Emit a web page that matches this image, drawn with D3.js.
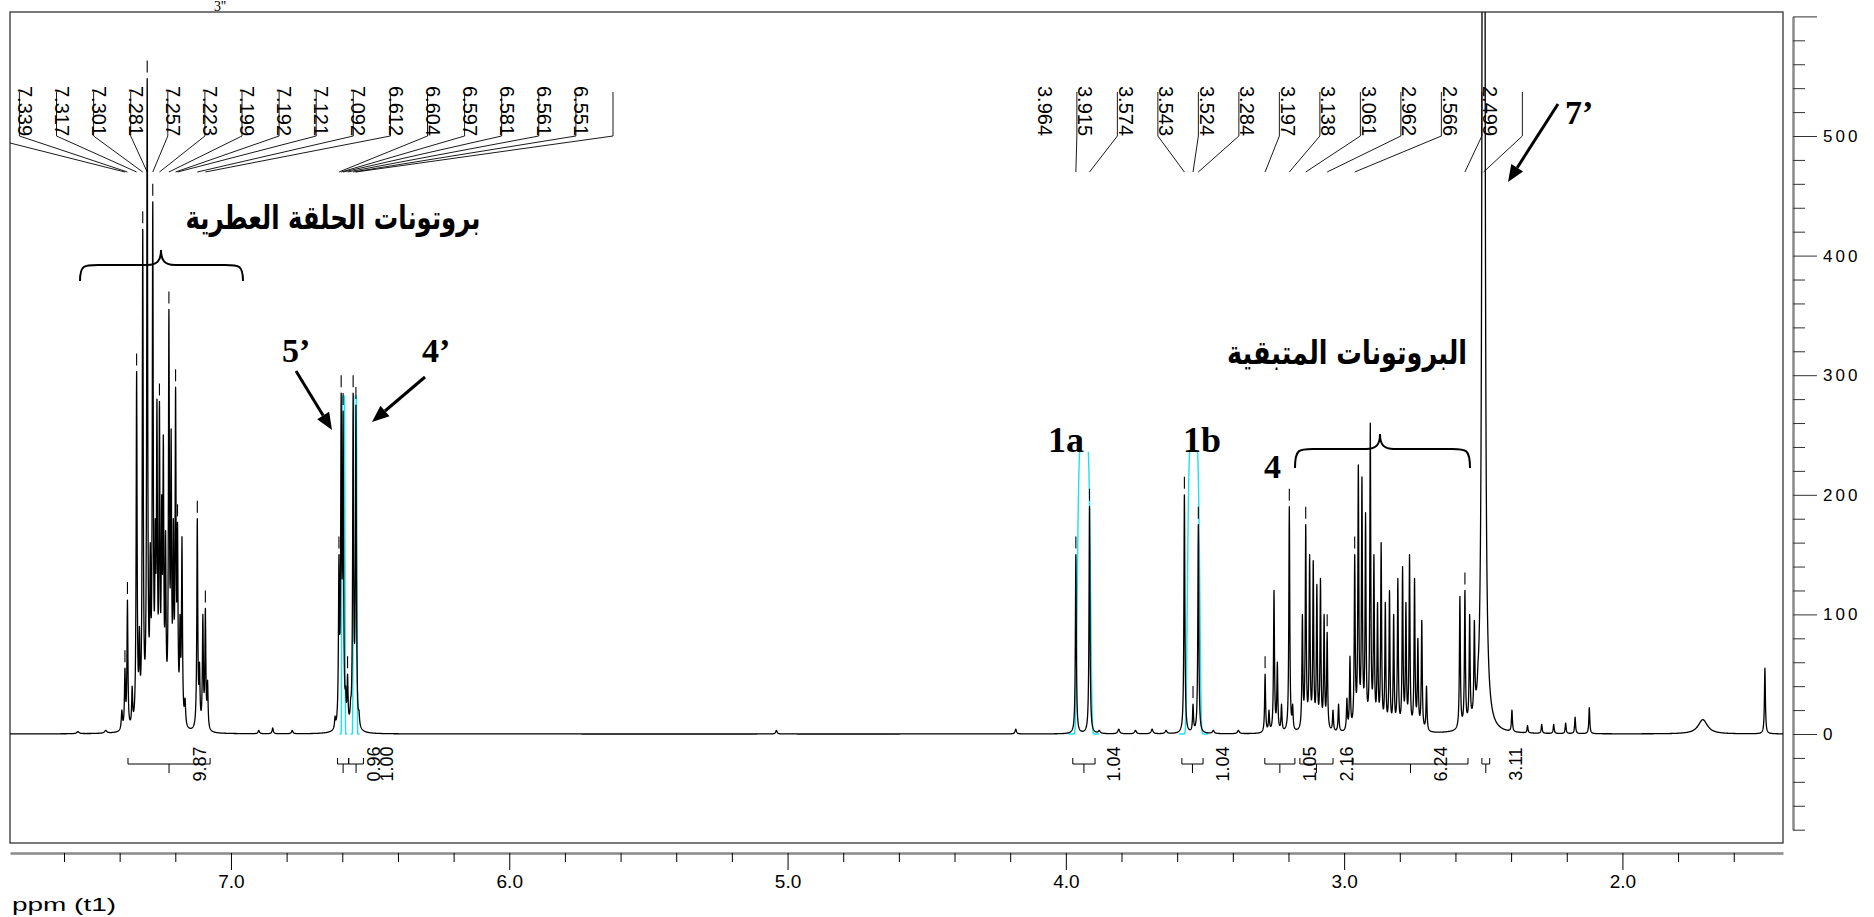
<!DOCTYPE html>
<html>
<head>
<meta charset="utf-8">
<script src="https://cdn.jsdelivr.net/npm/d3@7/dist/d3.min.js"></script>
<style>
  html, body { margin: 0; padding: 0; background: #ffffff; }
  svg { display: block; }
</style>
</head>
<body>
<svg id="chart" width="1874" height="917"></svg>
<script>
// 1H NMR spectrum, ppm (t1): peak picking, integrals and assignments

// ---------- axes ----------
const ppmWindow = [7.794, 1.423];
const ppmMajorTicks = [7, 6, 5, 4, 3, 2];
const ppmMinorTicks = [7.6, 7.4, 7.2, 6.8, 6.6, 6.4, 6.2, 5.8, 5.6, 5.4, 5.2, 4.8, 4.6, 4.4, 4.2,
                       3.8, 3.6, 3.4, 3.2, 2.8, 2.6, 2.4, 2.2, 1.8, 1.6];
const intensityWindow = [-80, 600];
const intensityMajorTicks = [0, 100, 200, 300, 400, 500, 600];
const intensityLabels = [0, 100, 200, 300, 400, 500];
const intensityMinorTicks = [-80, -60, -40, -20, 20, 40, 60, 80, 120, 140, 160, 180, 220, 240, 260, 280,
                             320, 340, 360, 380, 420, 440, 460, 480, 520, 540, 560, 580];

// ---------- resolved lines: [ppm, height, line width (ppm)] ----------
const aromaticLines = [
  [7.392, 20, 0.005], [7.381, 55, 0.004], [7.372, 112, 0.004], [7.355, 40, 0.004],
  [7.339, 303, 0.004], [7.329, 90, 0.004], [7.317, 422, 0.004], [7.301, 548, 0.004],
  [7.290, 160, 0.004], [7.281, 445, 0.004], [7.272, 180, 0.004], [7.266, 280, 0.004],
  [7.257, 278, 0.004], [7.249, 200, 0.004], [7.243, 250, 0.004], [7.235, 170, 0.004],
  [7.223, 355, 0.004], [7.215, 255, 0.004], [7.207, 180, 0.004], [7.199, 290, 0.004],
  [7.192, 177, 0.004], [7.183, 100, 0.004], [7.176, 165, 0.004], [7.165, 30, 0.005],
  [7.121, 180, 0.004], [7.113, 60, 0.004], [7.101, 100, 0.004], [7.092, 105, 0.004],
  [7.084, 45, 0.004]
];
const olefinicLines = [
  [6.626, 15, 0.004], [6.612, 150, 0.004], [6.604, 285, 0.004], [6.597, 270, 0.004],
  [6.588, 40, 0.004], [6.581, 50, 0.004], [6.570, 30, 0.004], [6.561, 285, 0.004],
  [6.551, 275, 0.004], [6.540, 20, 0.004]
];
const oxymethyleneLines = [
  [3.964, 150, 0.004], [3.915, 190, 0.004], [3.574, 200, 0.004], [3.543, 25, 0.004],
  [3.524, 175, 0.004]
];
const aliphaticLines = [
  [3.284, 50, 0.004], [3.270, 20, 0.004], [3.252, 120, 0.004], [3.240, 60, 0.004],
  [3.225, 25, 0.004], [3.197, 190, 0.004], [3.185, 25, 0.004], [3.150, 100, 0.004],
  [3.138, 175, 0.004], [3.124, 150, 0.004], [3.111, 145, 0.004], [3.098, 125, 0.004],
  [3.085, 130, 0.004], [3.072, 100, 0.004], [3.061, 85, 0.004], [3.040, 20, 0.004],
  [3.020, 25, 0.004], [2.990, 30, 0.004], [2.979, 65, 0.004], [2.962, 150, 0.004],
  [2.949, 225, 0.004], [2.936, 215, 0.004], [2.923, 185, 0.004], [2.906, 260, 0.004],
  [2.893, 150, 0.004], [2.880, 110, 0.004], [2.867, 160, 0.004], [2.852, 110, 0.004],
  [2.837, 120, 0.004], [2.822, 100, 0.004], [2.807, 130, 0.004], [2.790, 140, 0.004],
  [2.778, 110, 0.004], [2.765, 150, 0.004], [2.747, 130, 0.004], [2.735, 80, 0.004],
  [2.721, 95, 0.004], [2.704, 40, 0.004], [2.584, 115, 0.004], [2.566, 120, 0.004],
  [2.549, 100, 0.004], [2.532, 95, 0.004], [2.519, 60, 0.004]
];
const solventLines = [[2.499, 9000, 0.003]];
const minorLines = [
  [7.55, 2, 0.01], [7.45, 3, 0.01], [6.90, 3, 0.006], [6.85, 5, 0.005], [6.78, 3, 0.006],
  [5.04, 3, 0.006], [4.18, 4, 0.006], [3.88, 3, 0.008], [3.81, 4, 0.008], [3.75, 3, 0.008],
  [3.69, 4, 0.008], [3.64, 3, 0.008], [3.47, 3, 0.008], [3.38, 3, 0.008],
  [2.470, 15, 0.006], [2.397, 20, 0.004], [2.341, 7, 0.004], [2.290, 8, 0.004],
  [2.247, 8, 0.004], [2.204, 9, 0.004], [2.170, 14, 0.004], [2.119, 22, 0.004],
  [1.711, 12, 0.04], [1.488, 55, 0.004]
];

// broad overlay envelopes of the assigned multiplets: [ppm, half width (ppm), height, clip level]
const overlayEnvelopes = [
  [6.596, 0.0061, 300, 283], [6.554, 0.0072, 300, 283],
  [3.935, 0.0252, 250, 236], [3.541, 0.0234, 250, 236]
];

// ---------- peak picking ----------
const pickedAromatic = [7.381, 7.372, 7.339, 7.317, 7.301, 7.281, 7.257, 7.223, 7.199, 7.192,
                        7.121, 7.092, 6.612, 6.604, 6.597, 6.581, 6.561, 6.551];
const pickedAliphatic = [3.964, 3.915, 3.574, 3.543, 3.524, 3.284, 3.197, 3.138, 3.061, 2.962,
                         2.566, 2.499];

// ---------- integrals ----------
const integralRanges = [[7.370, 7.075], [6.617, 6.577], [6.577, 6.524], [3.975, 3.895],
                        [3.583, 3.507], [3.285, 3.177], [3.159, 3.040], [2.968, 2.555],
                        [2.505, 2.477]];
const integralValues = ["9.87", "0.96", "1.00", "1.04", "1.04", "1.05", "2.16", "6.24", "3.11"];

// ---------- assignments ----------
const aromaticTitle = "بروتونات الحلقة العطرية";
const remainingTitle = "البروتونات  المتبقية";

// ================= drawing =================
const frame = { left: 10, right: 1783, top: 12, bottom: 843 };
const zeroY = 734, unitPx = 1.196;

const x = d3.scaleLinear().domain(ppmWindow).range([frame.left, frame.right]);
const y = d3.scaleLinear().domain(intensityWindow)
  .range([zeroY - intensityWindow[0] * unitPx, zeroY - intensityWindow[1] * unitPx]);

const svg = d3.select("#chart");
const defs = svg.append("defs");
defs.append("clipPath").attr("id", "frameClip").append("rect")
  .attr("x", frame.left).attr("y", frame.top)
  .attr("width", frame.right - frame.left).attr("height", frame.bottom - frame.top);

const sans = "'Liberation Sans', Arial, sans-serif";
const serif = "'Liberation Serif', 'Times New Roman', serif";

// --- lineshape model ---
const lines = [].concat(aromaticLines, olefinicLines, oxymethyleneLines, aliphaticLines,
                        solventLines, minorLines);
function lorentz(p, c, w) { const d = 2 * (p - c) / w; return 1 / (1 + d * d); }
// amplitudes so that the summed trace reaches each line's observed height
const amp = lines.map(l => l[1]);
for (let it = 0; it < 200; it++) {
  for (let i = 0; i < lines.length; i++) {
    let s = 0;
    for (let j = 0; j < lines.length; j++) s += amp[j] * lorentz(lines[i][0], lines[j][0], lines[j][2]);
    amp[i] = Math.max(0, amp[i] + 0.7 * (lines[i][1] - s));
  }
}
function spectrum(p) {
  let s = 0;
  for (let i = 0; i < lines.length; i++) s += amp[i] * lorentz(p, lines[i][0], lines[i][2]);
  return s;
}
const N = 9000;
let grid = d3.range(N + 1).map(i => ppmWindow[0] + (ppmWindow[1] - ppmWindow[0]) * i / N);
grid = grid.concat(lines.map(l => l[0])).sort((a, b) => b - a);
const trace = grid.map(p => [p, spectrum(p)]);

// --- frame ---
svg.append("rect")
  .attr("x", frame.left).attr("y", frame.top)
  .attr("width", frame.right - frame.left).attr("height", frame.bottom - frame.top)
  .attr("fill", "none").attr("stroke", "#222").attr("stroke-width", 1.2);

const plot = svg.append("g").attr("clip-path", "url(#frameClip)");

// --- overlay envelopes (cyan) ---
overlayEnvelopes.forEach((e, k) => {
  const [c, s, h, cap] = e;
  const id = "capClip" + k;
  defs.append("clipPath").attr("id", id).append("rect")
    .attr("x", frame.left).attr("y", y(cap))
    .attr("width", frame.right - frame.left).attr("height", frame.bottom - y(cap));
  const pts = d3.range(0, 241).map(i => {
    const p = c - 2.2 * s + 4.4 * s * i / 240;
    const d = Math.abs((p - c) / s);
    return [p, h * Math.exp(-Math.pow(d, 6))];
  });
  plot.append("g").attr("clip-path", `url(#${id})`).append("path")
    .attr("d", d3.line().x(d => x(d[0])).y(d => y(d[1]))(pts))
    .attr("fill", "none").attr("stroke", "#19e3f2").attr("stroke-width", 1.4);
});

// --- spectrum trace ---
plot.append("path")
  .attr("d", d3.line().x(d => x(d[0])).y(d => y(d[1]))(trace))
  .attr("fill", "none").attr("stroke", "#000").attr("stroke-width", 1.3)
  .attr("stroke-linejoin", "round");

// --- peak-pick markers ---
pickedAromatic.concat(pickedAliphatic).forEach(p => {
  const yy = y(spectrum(p));
  plot.append("line").attr("x1", x(p)).attr("x2", x(p))
    .attr("y1", yy - 6).attr("y2", yy - 18)
    .attr("stroke", "#000").attr("stroke-width", 1.1);
});

// --- peak labels with leaders (labels running past the frame edge keep only their leader) ---
const fmt3 = d3.format(".3f");
function pickLabels(peaks, firstLeaderX, step) {
  peaks.forEach((p, i) => {
    const lx = firstLeaderX + i * step;
    const tx = lx - 32;
    plot.append("path")
      .attr("d", `M${lx},92V136L${x(p)},172`)
      .attr("fill", "none").attr("stroke", "#000").attr("stroke-width", 0.9);
    if (tx - 7 < frame.left) return;
    plot.append("text")
      .attr("transform", `translate(${tx - 7},86) rotate(90)`)
      .attr("font-family", sans).attr("font-size", 20).attr("fill", "#000")
      .text(fmt3(p));
  });
}
pickLabels(pickedAromatic, -17.7, 37.1);
pickLabels(pickedAliphatic, x(pickedAliphatic[0]) + 1, 40.5);

// --- integrals ---
const integY = 764;
integralRanges.forEach((r, i) => {
  const x1 = x(r[0]), x2 = x(r[1]), xm = (x1 + x2) / 2;
  svg.append("path")
    .attr("d", `M${x1},${integY - 6}V${integY}H${x2}V${integY - 6}M${xm},${integY}V${integY + 9}`)
    .attr("fill", "none").attr("stroke", "#000").attr("stroke-width", 1);
  svg.append("text")
    .attr("transform", `translate(${xm + 30 + 6.5},${integY}) rotate(-90)`)
    .attr("text-anchor", "middle")
    .attr("font-family", sans).attr("font-size", 18).attr("fill", "#000")
    .text(integralValues[i]);
});

// --- bottom ppm axis ---
const axisY = 853;
const gx = svg.append("g").attr("transform", `translate(0,${axisY})`);
gx.call(d3.axisBottom(x).tickValues(ppmMinorTicks).tickSize(9).tickSizeOuter(0).tickFormat(""));
gx.call(g => g.selectAll(".tick line").attr("stroke", "#000"));
const gxMajor = svg.append("g").attr("transform", `translate(0,${axisY})`);
gxMajor.call(d3.axisBottom(x).tickValues(ppmMajorTicks).tickSize(17).tickSizeOuter(0)
  .tickFormat(d3.format(".1f")).tickPadding(5));
gxMajor.selectAll(".tick text").attr("font-family", sans).attr("font-size", 19).attr("fill", "#000");
svg.selectAll("g .domain").attr("stroke", "#8a8a8a").attr("stroke-width", 2.5);
gxMajor.select(".domain").remove();
svg.append("text").attr("x", 12).attr("y", 911)
  .attr("font-family", sans).attr("font-size", 18).attr("textLength", 104)
  .attr("lengthAdjust", "spacingAndGlyphs").text("ppm (t1)");

// --- right intensity axis ---
const axisX = 1793;
const gy = svg.append("g").attr("transform", `translate(${axisX},0)`);
gy.call(d3.axisRight(y).tickValues(intensityMinorTicks).tickSize(12).tickSizeOuter(0).tickFormat(""));
gy.select(".domain").attr("stroke", "#8a8a8a").attr("stroke-width", 2.5);
gy.selectAll(".tick line").attr("stroke", "#333");
const gyMajor = svg.append("g").attr("transform", `translate(${axisX},0)`);
gyMajor.call(d3.axisRight(y).tickValues(intensityMajorTicks).tickSize(24).tickSizeOuter(0)
  .tickFormat(d => intensityLabels.includes(d) ? d : "").tickPadding(6));
gyMajor.select(".domain").remove();
gyMajor.selectAll(".tick line").attr("stroke", "#333");
gyMajor.selectAll(".tick text").attr("font-family", sans).attr("font-size", 17)
  .attr("letter-spacing", 3).attr("fill", "#000");

// --- assignment annotations ---
function arrow(x1, y1, x2, y2) {
  const a = Math.atan2(y2 - y1, x2 - x1), L = 17, Wd = 7;
  const bx = x2 - L * Math.cos(a), by = y2 - L * Math.sin(a);
  svg.append("line").attr("x1", x1).attr("y1", y1).attr("x2", bx).attr("y2", by)
    .attr("stroke", "#000").attr("stroke-width", 3);
  svg.append("path")
    .attr("d", `M${x2},${y2}L${bx + Wd * Math.sin(a)},${by - Wd * Math.cos(a)}L${bx - Wd * Math.sin(a)},${by + Wd * Math.cos(a)}Z`)
    .attr("fill", "#000");
}
function boldSerif(t, xx, yy, size) {
  svg.append("text").attr("x", xx).attr("y", yy)
    .attr("font-family", serif).attr("font-weight", "bold").attr("font-size", size)
    .attr("fill", "#000").text(t);
}
boldSerif("5’", 282, 362, 34);
boldSerif("4’", 422, 362, 34);
boldSerif("7’", 1565, 124, 34);
boldSerif("1a", 1048, 452, 36);
boldSerif("1b", 1183, 452, 36);
boldSerif("4", 1264, 478, 34);
arrow(296, 371, 332, 430);
arrow(425, 377, 372, 422);
arrow(1558, 104, 1508, 182);

svg.append("text").attr("x", 214).attr("y", 11)
  .attr("font-family", serif).attr("font-size", 14).text("3''");

function arabicTitle(t, cx, by, width, size) {
  const node = svg.append("text")
    .attr("font-family", "'DejaVu Sans', sans-serif").attr("font-weight", "bold")
    .attr("font-size", size).attr("text-anchor", "middle").attr("direction", "rtl")
    .attr("fill", "#000").text(t);
  const w = node.node().getBBox().width;
  node.attr("transform", `translate(${cx},${by}) scale(${width / w},1)`);
}
arabicTitle(aromaticTitle, 333, 229, 295, 33);
arabicTitle(remainingTitle, 1347, 364, 240, 33);

function brace(x1, x2, xm, yLine, yEnd, yTip) {
  const r = 14;
  svg.append("path")
    .attr("d", `M${x1},${yEnd} C${x1},${yLine} ${x1 + 4},${yLine} ${x1 + r + 4},${yLine}` +
      ` H${xm - r} C${xm - 4},${yLine} ${xm},${yLine - 4} ${xm},${yTip}` +
      ` C${xm},${yLine - 4} ${xm + 4},${yLine} ${xm + r},${yLine}` +
      ` H${x2 - r - 4} C${x2 - 4},${yLine} ${x2},${yLine} ${x2},${yEnd}`)
    .attr("fill", "none").attr("stroke", "#000").attr("stroke-width", 2);
}
brace(80, 243, 161, 265, 281, 250);
brace(1295, 1470, 1380, 449, 468, 434);
</script>
</body>
</html>
